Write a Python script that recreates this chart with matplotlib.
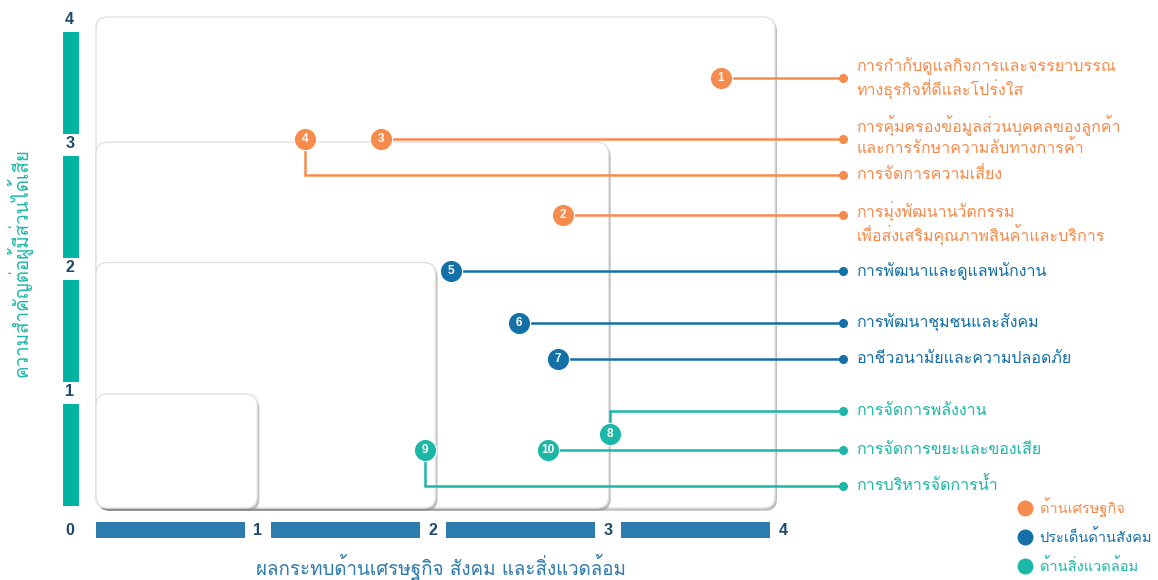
import matplotlib
matplotlib.use('Agg')
import matplotlib.pyplot as plt
import matplotlib.patheffects as pe
from matplotlib import font_manager
from matplotlib.ft2font import FT2Font
from matplotlib.patches import FancyBboxPatch

## Data
issue_no = [1, 2, 3, 4, 5, 6, 7, 8, 9, 10]
impact = [3.68, 2.75, 1.68, 1.23, 2.09, 2.49, 2.72, 3.03, 1.94, 2.66]
importance = [3.50, 2.39, 3.01, 3.01, 1.93, 1.51, 1.21, 0.60, 0.47, 0.47]
group = ['econ', 'econ', 'econ', 'econ', 'social', 'social', 'social', 'env', 'env', 'env']
issue_labels = [
    'การกำกับดูแลกิจการและจรรยาบรรณ\nทางธุรกิจที่ดีและโปร่งใส',
    'การมุ่งพัฒนานวัตกรรม\nเพื่อส่งเสริมคุณภาพสินค้าและบริการ',
    'การคุ้มครองข้อมูลส่วนบุคคลของลูกค้า\nและการรักษาความลับทางการค้า',
    'การจัดการความเสี่ยง',
    'การพัฒนาและดูแลพนักงาน',
    'การพัฒนาชุมชนและสังคม',
    'อาชีวอนามัยและความปลอดภัย',
    'การจัดการพลังงาน',
    'การบริหารจัดการน้ำ',
    'การจัดการขยะและของเสีย',
]
group_names = {'econ': 'ด้านเศรษฐกิจ', 'social': 'ประเด็นด้านสังคม', 'env': 'ด้านสิ่งแวดล้อม'}
# nested zones (impact extent, importance extent), biggest first
zone_w = [4.0, 3.02, 2.0, 0.95]
zone_h = [4.0, 2.98, 2.0, 0.93]
x_title = 'ผลกระทบด้านเศรษฐกิจ สังคม และสิ่งแวดล้อม'
y_title = 'ความสำคัญต่อผู้มีส่วนได้เสีย'

## Styling / layout
colors = {'econ': '#F58B4C', 'social': '#1470A6', 'env': '#1DB7A8'}
# y of the horizontal leader line at the label side (elbow lines for 4, 8, 9)
leader_y = {4: 2.71, 8: 0.79, 9: 0.18}
text_offset = {2: -0.07, 3: 0.02}
line_end_x = 4.40
text_x = 4.48


def find_thai_font():
    for f in font_manager.fontManager.ttflist:
        try:
            if 0x0E01 in FT2Font(f.fname).get_charmap():
                return f.name
        except Exception:
            pass
    return None


thai = find_thai_font()
families = ([thai] if thai else []) + ['DejaVu Sans']
plt.rcParams['font.family'] = families

fig = plt.figure(figsize=(11.58, 5.8), dpi=100)
ax = fig.add_axes([96 / 1158, 72 / 580, 679 / 1158, 491 / 580])
ax.set_xlim(0, 4)
ax.set_ylim(0, 4)
ax.axis('off')

# nested rounded boxes, biggest first
aspect = (679 / 4) / (491 / 4)
for i, (w, h) in enumerate(zip(zone_w, zone_h)):
    box = FancyBboxPatch((0, 0), w, h, boxstyle='round,pad=0,rounding_size=0.07',
                         mutation_aspect=aspect, facecolor='white', edgecolor='#E2E2E2',
                         lw=1.0, zorder=1 + i, clip_on=False)
    box.set_path_effects([pe.SimplePatchShadow(offset=(1.5, -2), shadow_rgbFace='0.5', alpha=0.5),
                          pe.Normal()])
    ax.add_patch(box)

# leader lines, points and labels
for n, x, y, g, lab in zip(issue_no, impact, importance, group, issue_labels):
    c = colors[g]
    ly = leader_y.get(n, y)
    ax.plot([x, x, line_end_x], [y, ly, ly], color=c, lw=1.8, zorder=10, clip_on=False,
            solid_joinstyle='miter')
    ax.plot(line_end_x, ly, 'o', ms=5.5, color=c, zorder=11, clip_on=False)
    ax.plot(x, y, 'o', ms=16, color=c, mec='white', mew=0.8, zorder=12, clip_on=False)
    ax.text(x, y, str(n), color='white', fontsize=8.5, fontweight='bold', ha='center',
            va='center', zorder=13, family='Liberation Sans')
    ax.text(text_x, ly + text_offset.get(n, 0), lab, color=c, fontsize=11.5, ha='left',
            va='center', linespacing=1.25, zorder=13)

# axis bars and tick labels
tick_col = '#1D4A6B'
xt = [1.031 * k - 0.077 for k in range(5)]
for k in range(1, 5):
    ax.plot([xt[k - 1] + 0.077, xt[k] - 0.077], [-0.18, -0.18], color='#2E7BAD', lw=11.5,
            solid_capstyle='butt', clip_on=False)
    ax.text(xt[k], -0.18, str(k), color=tick_col, fontsize=11.5, fontweight='bold',
            ha='center', va='center', family='Liberation Sans')
yt = [1.01 * k - 0.06 for k in range(5)]
for k in range(1, 5):
    ax.plot([-0.145, -0.145], [max(0, yt[k - 1] + 0.08), yt[k] - 0.1], color='#00B3A2', lw=11.5,
            solid_capstyle='butt', clip_on=False)
    ax.text(-0.155, yt[k], str(k), color=tick_col, fontsize=11.5, fontweight='bold',
            ha='center', va='center', family='Liberation Sans')
ax.text(-0.155, -0.18, '0', color=tick_col, fontsize=11.5, fontweight='bold',
        ha='center', va='center', family='Liberation Sans')

ax.text(2.03, -0.48, x_title, color='#2E7BAD', fontsize=13.5, ha='center', va='center')
ax.text(-0.45, 2.0, y_title, color='#1DB7A8', fontsize=13.5, ha='center', va='center',
        rotation=90)

# legend
for i, g in enumerate(['econ', 'social', 'env']):
    ly = -0.236 * i
    ax.plot(5.47, ly, 'o', ms=10.5, color=colors[g], clip_on=False)
    ax.text(5.56, ly, group_names[g], color=colors[g], fontsize=10.5, ha='left', va='center')

fig.savefig('out.png', dpi=100)
